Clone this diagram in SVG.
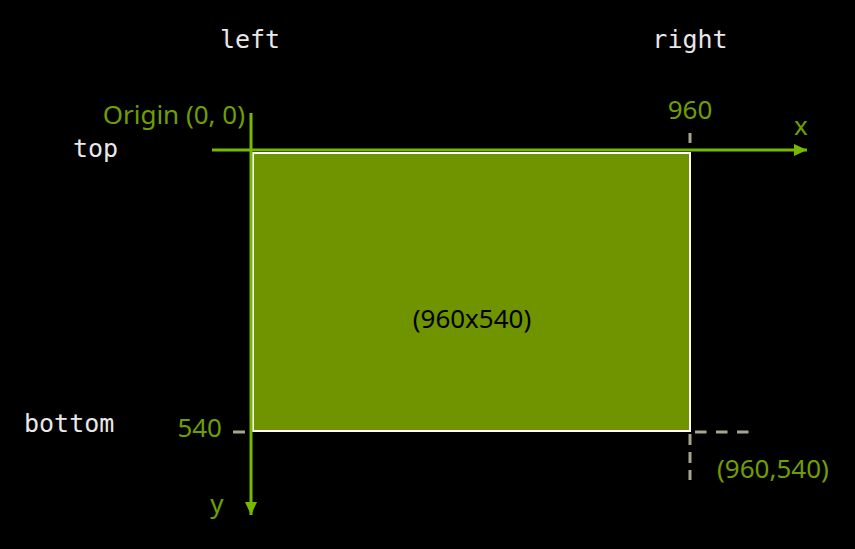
<svg xmlns="http://www.w3.org/2000/svg" width="855" height="549" viewBox="0 0 855 549">
<style>
.mono{font-family:"DejaVu Sans Mono",monospace;font-size:25px;fill:#e8e8e8}
.lbl{font-family:"Noto Sans","DejaVu Sans",sans-serif;font-size:26px;fill:#6f9e00}
.axis{stroke:#76b900;stroke-width:3;fill:none}
.dash{stroke:#a8a58c;stroke-width:3;fill:none}
</style>
<defs>
<marker id="arr" markerUnits="userSpaceOnUse" markerWidth="14" markerHeight="14" refX="13" refY="6" orient="auto">
<path d="M0,0 L13,6 L0,12 Z" fill="#76b900"/>
</marker>
</defs>
<rect width="855" height="549" fill="#000"/>
<g id="screen">
<rect x="253" y="153" width="437" height="278" fill="#6f9400" stroke="#ffffff" stroke-width="2"/>
<text x="472" y="328" text-anchor="middle" style="font-family:'Noto Sans','DejaVu Sans',sans-serif;font-size:26px;fill:#000">(960x540)</text>
</g>
<g id="connectors">
<line class="axis" x1="212" y1="150" x2="807" y2="150" marker-end="url(#arr)"/>
<line class="axis" x1="251" y1="113" x2="251" y2="515" marker-end="url(#arr)"/>
<line class="dash" x1="690" y1="133" x2="690" y2="143"/>
<line class="dash" x1="233" y1="432" x2="245" y2="432"/>
<line class="dash" x1="695" y1="432" x2="750" y2="432" stroke-dasharray="11.5 9.5"/>
<line class="dash" x1="690" y1="434" x2="690" y2="480" stroke-dasharray="11 7"/>
</g>
<g id="labels">
<text class="mono" x="250" y="48" text-anchor="middle">left</text>
<text class="mono" x="690" y="48" text-anchor="middle">right</text>
<text class="mono" x="73" y="157">top</text>
<text class="mono" x="24" y="432">bottom</text>
<text class="lbl" x="245" y="124" text-anchor="end">Origin (0, 0)</text>
<text class="lbl" x="690" y="119" text-anchor="middle">960</text>
<text class="lbl" x="801" y="135" text-anchor="middle">x</text>
<text class="lbl" x="222" y="437" text-anchor="end">540</text>
<text class="lbl" x="217" y="513" text-anchor="middle">y</text>
<text class="lbl" x="717" y="478">(960,540)</text>
</g>
</svg>
